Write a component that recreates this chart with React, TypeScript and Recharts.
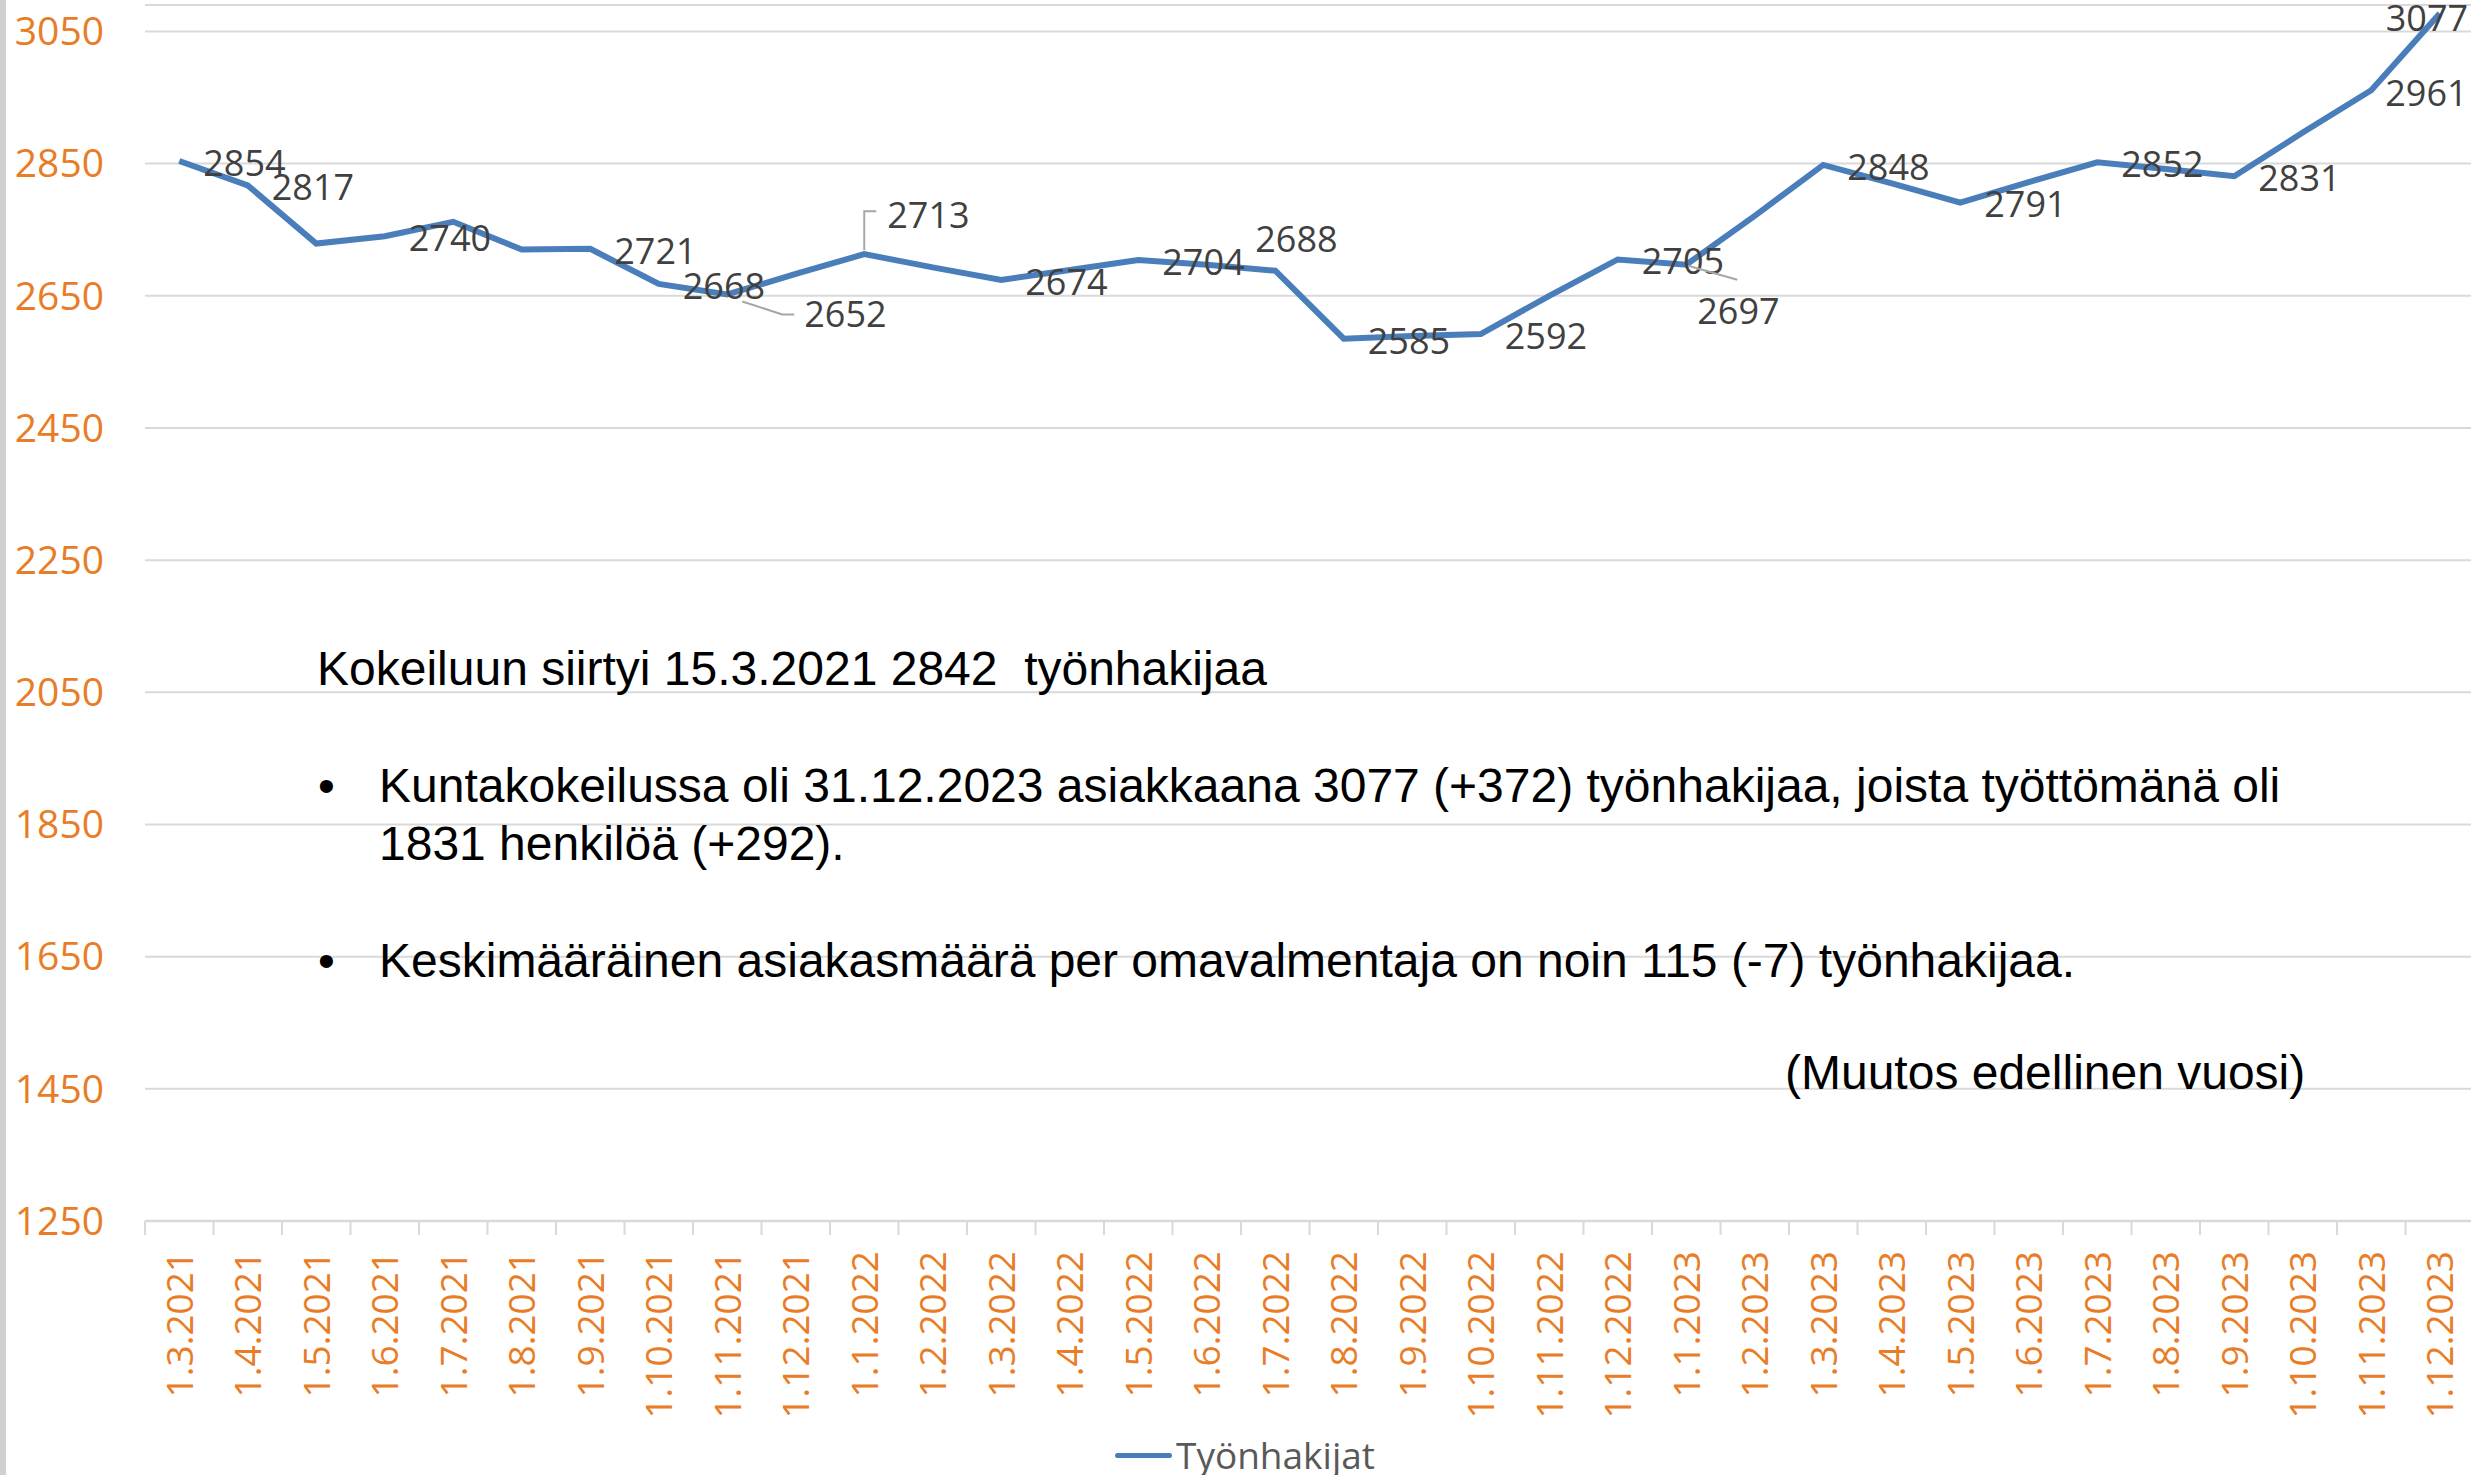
import { CartesianGrid, LabelList, Line, LineChart, XAxis, YAxis } from "recharts";

// monthly snapshots of job seekers in the municipal trial
const months = [
  "1.3.2021", "1.4.2021", "1.5.2021", "1.6.2021", "1.7.2021", "1.8.2021", "1.9.2021", "1.10.2021",
  "1.11.2021", "1.12.2021", "1.1.2022", "1.2.2022", "1.3.2022", "1.4.2022", "1.5.2022", "1.6.2022",
  "1.7.2022", "1.8.2022", "1.9.2022", "1.10.2022", "1.11.2022", "1.12.2022", "1.1.2023", "1.2.2023",
  "1.3.2023", "1.4.2023", "1.5.2023", "1.6.2023", "1.7.2023", "1.8.2023", "1.9.2023", "1.10.2023",
  "1.11.2023", "1.12.2023",
];
const jobSeekers = [
  2854, 2817, 2729, 2740, 2762, 2720, 2721, 2668,
  2652, 2683, 2713, 2693, 2674, 2689, 2704, 2697,
  2688, 2585, 2589, 2592, 2650, 2705, 2697, 2771,
  2848, 2820, 2791, 2822, 2852, 2842, 2831, 2897,
  2961, 3077,
];
// points that carry a data label in the original
const labelledPoints = [0, 1, 3, 6, 7, 8, 10, 12, 14, 16, 17, 19, 21, 22, 24, 26, 28, 30, 32, 33];
const yTicks = [1250, 1450, 1650, 1850, 2050, 2250, 2450, 2650, 2850, 3050];
const seriesName = "Työnhakijat";
const introText = "Kokeiluun siirtyi 15.3.2021 2842  työnhakijaa";
const bulletOne = [
  "Kuntakokeilussa oli 31.12.2023 asiakkaana 3077 (+372) työnhakijaa, joista työttömänä oli",
  "1831 henkilöä (+292).",
];
const bulletTwo = "Keskimääräinen asiakasmäärä per omavalmentaja on noin 115 (-7) työnhakijaa.";
const noteText = "(Muutos edellinen vuosi)";

const data = months.map((month, i) => ({
  month,
  value: jobSeekers[i],
  label: labelledPoints.includes(i) ? jobSeekers[i] : null,
}));

const W = 2471;
const H = 1475;
const CHART_W = 2474;
const Y_AXIS_W = 145;
const BAND = (CHART_W - Y_AXIS_W) / months.length;
const BLUE = "#4A7EBB";
const ORANGE = "#E97C26";
const GRID = "#d9d9d9";
const CHART_FONT = "'Open Sans', sans-serif";
const TEXT_FONT = "'Liberation Sans', Arial, sans-serif";

// label placement tweaks (label left edge / vertical centre relative to the point)
const labelOffsets: Record<number, { dx: number; dy: number; leader?: number[][] }> = {
  8: { dx: 77, dy: 20, leader: [[15, 7], [55, 20], [67, 20]] },
  10: { dx: 23, dy: -39, leader: [[0, -4], [0, -43], [12, -43]] },
  16: { dx: -20, dy: -32 },
  22: { dx: 11, dy: 46, leader: [[2, 1], [51, 15]] },
  32: { dx: 14, dy: 3 },
  33: { dx: -54, dy: 5 },
};

function renderPointLabel(props: any) {
  const { x, y, value, index } = props;
  if (value == null) return null;
  const off = labelOffsets[index] || { dx: 24, dy: 2 };
  const fs = 36;
  return (
    <g key={`lbl-${index}`}>
      {off.leader && (
        <polyline
          points={off.leader.map(([lx, ly]) => `${x + lx},${y + ly}`).join(" ")}
          fill="none"
          stroke="#a6a6a6"
          strokeWidth={2}
        />
      )}
      <text x={x + off.dx} y={y + off.dy + fs * 0.357} fill="#404040" fontSize={fs} fontFamily={CHART_FONT}>
        {value}
      </text>
    </g>
  );
}

function renderMonthTick(props: any) {
  const { x, y, payload } = props;
  const ty = y + 30;
  return (
    <g>
      <line x1={x - BAND / 2} y1={y} x2={x - BAND / 2} y2={y + 14} stroke={GRID} strokeWidth={2} />
      <text
        x={x}
        y={ty}
        dy="0.36em"
        transform={`rotate(-90 ${x} ${ty})`}
        textAnchor="end"
        fill={ORANGE}
        fontSize={37}
        fontFamily={CHART_FONT}
      >
        {payload.value}
      </text>
    </g>
  );
}

const textStyle: React.CSSProperties = {
  position: "absolute",
  fontFamily: TEXT_FONT,
  fontSize: 48,
  lineHeight: "48px",
  color: "#000",
  whiteSpace: "pre",
};

export default function App() {
  return (
    <div style={{ position: "absolute", left: 0, top: 0, width: W, height: H, overflow: "hidden", background: "#fff" }}>
      <div style={{ position: "absolute", left: 0, top: 0, width: 6, height: H, background: "#d0d0d0" }} />
      <LineChart width={CHART_W} height={H} data={data} margin={{ top: 5, right: 0, bottom: 54, left: 0 }}>
        <CartesianGrid vertical={false} stroke={GRID} strokeWidth={2} />
        <XAxis
          dataKey="month"
          interval={0}
          height={200}
          padding={{ left: BAND / 2, right: BAND / 2 }}
          tickLine={false}
          tickSize={0}
          tickMargin={0}
          axisLine={{ stroke: GRID, strokeWidth: 2.5 }}
          tick={renderMonthTick}
        />
        <YAxis
          type="number"
          domain={[1250, 3090]}
          ticks={yTicks}
          allowDataOverflow
          width={Y_AXIS_W}
          axisLine={false}
          tickLine={false}
          tickMargin={35}
          tick={{ fill: ORANGE, fontSize: 39, fontFamily: CHART_FONT }}
        />
        <Line
          type="linear"
          dataKey="value"
          name={seriesName}
          stroke={BLUE}
          strokeWidth={6}
          dot={false}
          activeDot={false}
          isAnimationActive={false}
        >
          <LabelList dataKey="label" content={renderPointLabel} />
        </Line>
      </LineChart>

      <div style={{ ...textStyle, left: 317, top: 645 }}>{introText}</div>
      <div style={{ ...textStyle, left: 318, top: 762 }}>•</div>
      <div style={{ ...textStyle, left: 379, top: 762 }}>{bulletOne[0]}</div>
      <div style={{ ...textStyle, left: 379, top: 820 }}>{bulletOne[1]}</div>
      <div style={{ ...textStyle, left: 318, top: 937 }}>•</div>
      <div style={{ ...textStyle, left: 379, top: 937 }}>{bulletTwo}</div>
      <div style={{ ...textStyle, left: 1785, top: 1049 }}>{noteText}</div>

      <div style={{ position: "absolute", left: 1115, top: 1453, width: 57, height: 5, background: BLUE, borderRadius: 3 }} />
      <div
        style={{
          position: "absolute",
          left: 1176,
          top: 1436,
          fontFamily: CHART_FONT,
          fontSize: 37,
          lineHeight: "37px",
          color: "#595959",
          whiteSpace: "pre",
        }}
      >
        {seriesName}
      </div>
    </div>
  );
}
